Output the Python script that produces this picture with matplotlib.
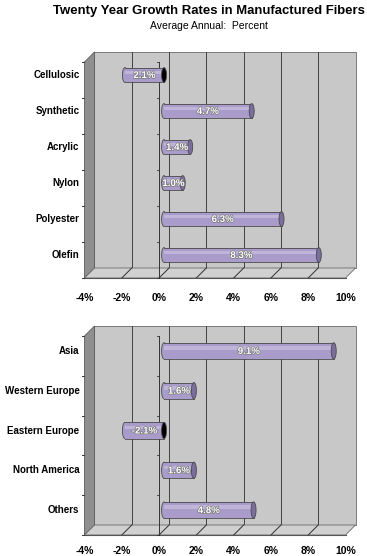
import matplotlib
matplotlib.use("Agg")
import matplotlib.pyplot as plt
from matplotlib.patches import Polygon, Ellipse
import matplotlib.patheffects as pe

# data
fiber_names = ["Cellulosic", "Synthetic", "Acrylic", "Nylon", "Polyester", "Olefin"]
fiber_rates = [-2.1, 4.7, 1.4, 1.0, 6.3, 8.3]
fiber_labels = ["2.1%", "4.7%", "1.4%", "1.0%", "6.3%", "8.3%"]

region_names = ["Asia", "Western Europe", "Eastern Europe", "North America", "Others"]
region_rates = [9.1, 1.6, -2.1, 1.6, 4.8]
region_labels = ["9.1%", "1.6%", "-2.1%", "1.6%", "4.8%"]

x_ticks = [-4, -2, 0, 2, 4, 6, 8, 10]
x_tick_labels = ["-4%", "-2%", "0%", "2%", "4%", "6%", "8%", "10%"]

plt.rcParams["font.family"] = ["Liberation Sans", "DejaVu Sans"]

W, H = 367, 556
DX, DY = 10, 10          # depth offset in pixels
BAR_FC = "#a99cca"
BAR_HI = "#c9c0e0"
EDGE = "#4a4a4a"

fig = plt.figure(figsize=(W / 100, H / 100), dpi=100)
fig.patch.set_facecolor("white")

title = fig.text(209 / W, 1 - 11 / H, "Twenty Year Growth Rates in Manufactured Fibers",
                 ha="center", va="center", fontsize=12, fontweight="bold")
# shrink title so it spans about the same width as the original
r = fig.canvas.get_renderer()
tw = title.get_window_extent(r).width
title.set_fontsize(12 * 312 / tw)
fig.text(209 / W, 1 - 26 / H, "Average Annual:  Percent",
         ha="center", va="center", fontsize=7.5)


def panel(rect, names, rates, labels, lab_pad):
    ax = fig.add_axes(rect)
    n = len(names)
    ax.set_xlim(-4, 10)
    ax.set_ylim(n, 0)
    for s in ax.spines.values():
        s.set_visible(False)
    ax.set_yticks([])
    ax.set_xticks(x_ticks)
    ax.set_xticklabels(x_tick_labels, fontweight="bold", fontsize=7.5)
    ax.tick_params(axis="x", length=0, pad=lab_pad)
    ax.patch.set_visible(False)

    bb = ax.get_window_extent()
    px_x = bb.width / 14.0
    px_y = bb.height / n
    sx = DX / px_x
    sy = DY / px_y

    # walls and floor
    back = Polygon([(-4 + sx, -sy), (10 + sx, -sy), (10 + sx, n - sy), (-4 + sx, n - sy)],
                   fc="#c8c8c8", ec="#6a6a6a", lw=0.6, zorder=0, clip_on=False)
    side = Polygon([(-4, 0), (-4 + sx, -sy), (-4 + sx, n - sy), (-4, n)],
                   fc="#8f8f8f", ec="#5a5a5a", lw=0.6, zorder=1, clip_on=False)
    floor = Polygon([(-4, n), (10, n), (10 + sx, n - sy), (-4 + sx, n - sy)],
                    fc="#d0d0d0", ec="#6a6a6a", lw=0.6, zorder=1, clip_on=False)
    for p in (back, side, floor):
        ax.add_patch(p)
    for x in x_ticks[1:-1]:
        ax.plot([x + sx, x + sx], [-sy, n - sy], color="#404040", lw=0.7,
                zorder=0.5, clip_on=False)
        ax.plot([x, x + sx], [n, n - sy], color="#303030", lw=0.7,
                zorder=1.5, clip_on=False)
    ax.plot([-4, 10], [n, n], color="#555555", lw=0.8, zorder=1.5, clip_on=False)

    # category ticks on the side wall and the zero axis line
    tk = 3 / px_x
    for i in range(n + 1):
        ax.plot([-4 - tk, -4], [i, i], color="#333333", lw=0.7, clip_on=False)
        ax.plot([-tk * 0.8, 0], [i, i], color="#333333", lw=0.6, zorder=2, clip_on=False)
    ax.plot([0, 0], [0, n], color="#333333", lw=0.7, zorder=2, clip_on=False)

    # cylinder bars in the middle depth plane
    mx, my = sx / 2, sy / 2
    ys = [i + 0.5 - my for i in range(n)]
    h = 0.41
    cap_w = 5 / px_x
    for y, r in zip(ys, rates):
        left = mx + min(r, 0)
        ax.add_patch(Ellipse((left, y), cap_w, h, fc=BAR_FC, ec=EDGE, lw=0.6, zorder=3))
    ax.barh(ys, rates, left=mx, height=h, color=BAR_FC, edgecolor="none", zorder=4)
    ax.barh([y - h * 0.18 for y in ys], rates, left=mx, height=h * 0.22,
            color=BAR_HI, edgecolor="none", alpha=0.7, zorder=4)
    for y, r in zip(ys, rates):
        lo, hi = mx + min(r, 0), mx + max(r, 0)
        ax.plot([lo, hi], [y - h / 2, y - h / 2], color=EDGE, lw=0.6, zorder=5)
        ax.plot([lo, hi], [y + h / 2, y + h / 2], color=EDGE, lw=0.6, zorder=5)
        cap = "#7b6e9e" if r > 0 else "black"
        ax.add_patch(Ellipse((hi, y), cap_w, h, fc=cap, ec=EDGE, lw=0.6, zorder=5))

    stroke = [pe.withStroke(linewidth=1.0, foreground="#777777")]
    for y, r, lab in zip(ys, rates, labels):
        ax.text(mx + r / 2, y, lab, ha="center", va="center", color="white",
                fontsize=7, fontweight="bold", zorder=6, path_effects=stroke)
    for y, name in zip(ys, names):
        ax.text(-4 - 5 / px_x, y, name, ha="right", va="center",
                fontsize=7, fontweight="bold", zorder=6)
    return ax


panel([84.5 / W, 1 - 278 / H, 261 / W, 216 / H],
      fiber_names, fiber_rates, fiber_labels, 11)
panel([84.5 / W, 1 - 535 / H, 261 / W, 199 / H],
      region_names, region_rates, region_labels, 8)

fig.savefig("out.png", dpi=100)
